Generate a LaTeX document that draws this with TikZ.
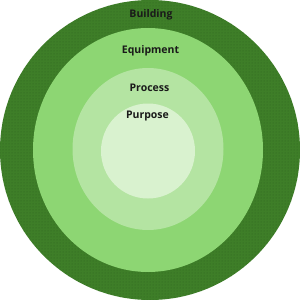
\documentclass[tikz,border=0pt]{standalone}
\usepackage{fontspec}
\setmainfont{Open Sans}
\usetikzlibrary{patterns}

\definecolor{building}{HTML}{3E7E28}
\definecolor{buildingdot}{HTML}{2F6420}
\definecolor{equipment}{HTML}{8DD673}
\definecolor{process}{HTML}{B4E4A2}
\definecolor{purpose}{HTML}{D9F2CF}
\definecolor{labtext}{HTML}{1A1A1A}

\begin{document}
\begin{tikzpicture}[x=1pt,y=-1pt,
 ring/.style={draw=none},
 lab/.style={font=\bfseries\fontsize{10.5}{12}\selectfont,text=labtext,inner sep=1pt}]
\useasboundingbox (0,0) rectangle (300,300);
% rings, outside in
\fill[ring,building] (150,150) ellipse [x radius=150,y radius=150];
\fill[ring,pattern=dots,pattern color=buildingdot] (150,150) ellipse [x radius=150,y radius=150];
\fill[ring,equipment] (148,150) ellipse [x radius=115,y radius=122];
\fill[ring,process] (148,149) ellipse [x radius=75.5,y radius=81];
\fill[ring,purpose] (148,151) ellipse [x radius=47,y radius=47.5];
% labels
\node[lab] (building) at (151,15) {Building};
\node[lab] (equipment) at (150.5,51) {Equipment};
\node[lab] (process) at (149.5,88) {Process};
\node[lab] (purpose) at (147.5,116) {Purpose};
\end{tikzpicture}
\end{document}
